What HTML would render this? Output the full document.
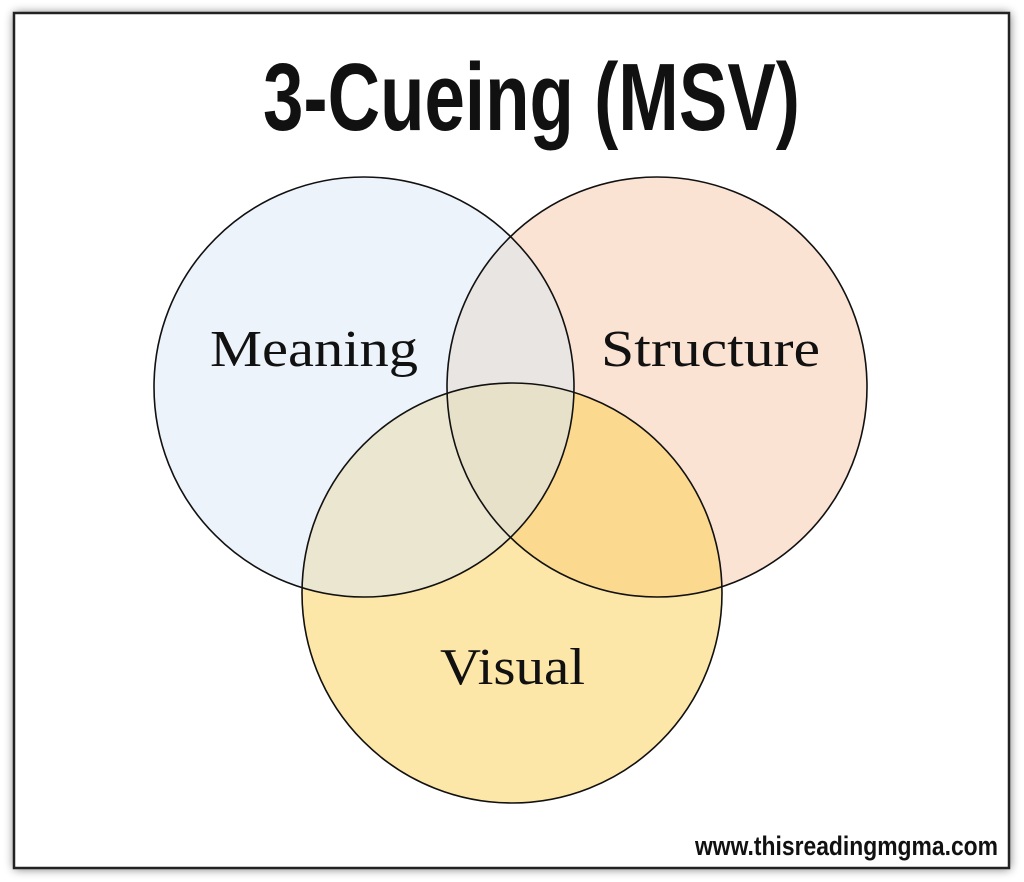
<!DOCTYPE html>
<html><head><style>
html,body{margin:0;padding:0;background:#fff;width:1024px;height:882px;overflow:hidden}
</style></head><body>
<svg width="1024" height="882" viewBox="0 0 1024 882" xmlns="http://www.w3.org/2000/svg">
<defs>
<filter id="sh" x="-5%" y="-5%" width="110%" height="110%"><feGaussianBlur stdDeviation="5"/></filter>
<clipPath id="cM"><circle cx="364" cy="387" r="210"/></clipPath>
<clipPath id="cS"><circle cx="657" cy="387" r="210"/></clipPath>
<clipPath id="cV"><circle cx="512" cy="593" r="210"/></clipPath>
</defs>
<rect x="14" y="13" width="996" height="856" fill="#000" opacity="0.55" filter="url(#sh)"/>
<rect x="14" y="13" width="995" height="855" fill="#fff" stroke="#222" stroke-width="2.5"/>
<text x="263" y="130" textLength="537" lengthAdjust="spacingAndGlyphs" font-family="Liberation Sans, sans-serif" font-weight="bold" font-size="96" fill="#111">3-Cueing (MSV)</text>
<circle cx="364" cy="387" r="210" fill="#edf3fa"/>
<circle cx="657" cy="387" r="210" fill="#fbe3d4"/>
<circle cx="512" cy="593" r="210" fill="#fde7a8"/>
<g clip-path="url(#cM)"><circle cx="657" cy="387" r="210" fill="#e8e5e2"/><circle cx="512" cy="593" r="210" fill="#ebe6d0"/></g>
<g clip-path="url(#cS)"><circle cx="512" cy="593" r="210" fill="#fbd98e"/></g>
<g clip-path="url(#cS)"><g clip-path="url(#cM)"><circle cx="512" cy="593" r="210" fill="#e8e1c9"/></g></g>
<g fill="none" stroke="#111" stroke-width="1.6">
<circle cx="364" cy="387" r="210"/>
<circle cx="657" cy="387" r="210"/>
<circle cx="512" cy="593" r="210"/>
</g>
<g font-family="Liberation Serif, serif" font-size="52" fill="#111">
<text x="210" y="366" textLength="208" lengthAdjust="spacingAndGlyphs">Meaning</text>
<text x="601" y="366" textLength="219" lengthAdjust="spacingAndGlyphs">Structure</text>
<text x="440" y="684" textLength="145" lengthAdjust="spacingAndGlyphs">Visual</text>
</g>
<text x="695" y="855" textLength="303" lengthAdjust="spacingAndGlyphs" font-family="Liberation Sans, sans-serif" font-weight="bold" font-size="27" fill="#111">www.thisreadingmgma.com</text>
</svg>
</body></html>
